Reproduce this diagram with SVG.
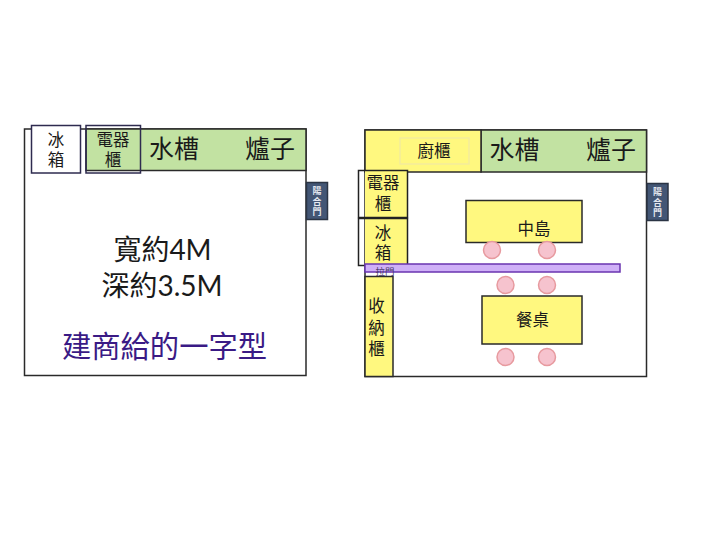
<svg xmlns="http://www.w3.org/2000/svg" width="720" height="540" viewBox="0 0 720 540">
<style>
text{font-family:"Liberation Sans","Noto Sans CJK TC",sans-serif;fill:#1a1a1a;text-anchor:middle}
.room{fill:#fff;stroke:#2a2a2a;stroke-width:1.5}
.green{fill:#c2e2a2;stroke:#2a2a2a;stroke-width:1.5}
.yellow{fill:#fff87f;stroke:#2a2a2a;stroke-width:1.5}
.box{fill:none;stroke:#2e2b4f;stroke-width:1.5}
.door{fill:#435675;stroke:#2b3444;stroke-width:1.5}
.doort{font-size:9px;fill:#e6e9f0;font-weight:bold}
.seat{fill:#f6c3ce;stroke:#e79a9f;stroke-width:1.5}
.l25{font-size:25px}
.l16{font-size:16.500px}
.cap{font-family:"Lato","Noto Sans CJK TC",sans-serif;font-size:28px}
</style>
<rect width="720" height="540" fill="#fff"/>
<g id="plan-left">
<rect class="room" x="24.500" y="129" width="281.500" height="246.500"/>
<rect class="green" x="86" y="129" width="220" height="41.500"/>
</g>
<g id="fridge-left"><rect x="31.500" y="125.500" width="49" height="47.500" fill="#fff" stroke="#2e2b4f" stroke-width="1.500"/>
<text class="l16" x="56" y="146">冰</text><text class="l16" x="56" y="165.500">箱</text></g>
<g id="cabinet-left"><rect class="box" x="86" y="125.500" width="54.500" height="47.500"/>
<text class="l16" x="113" y="145.500">電器</text><text class="l16" x="113" y="165.500">櫃</text></g>
<g id="sink-left"><text class="l25" x="174" y="158">水槽</text></g>
<g id="stove-left"><text class="l25" x="270" y="158">爐子</text></g>
<g id="door-left"><rect class="door" x="306.500" y="182.500" width="21" height="37"/>
<text class="doort" x="317" y="194">陽</text><text class="doort" x="317" y="204.500">合</text><text class="doort" x="317" y="215">門</text></g>
<g id="caption-left">
<text class="cap" x="162.500" y="259.500">寬約4M</text>
<text class="cap" x="162" y="295.500">深約3.5M</text>
<text x="164.500" y="357" font-size="29.300px" style="fill:#3a1a85">建商給的一字型</text></g>

<g id="plan-right">
<rect class="room" x="365" y="130" width="281.500" height="246.500"/>
<rect class="green" x="481" y="130" width="165.500" height="42"/>
</g>
<g id="pantry"><rect class="yellow" x="365" y="130" width="116" height="42"/>
<rect x="400" y="138" width="69" height="26" fill="none" stroke="#f4eb9c" stroke-width="1.500"/>
<text class="l16" x="434" y="157">廚櫃</text></g>
<g id="sink-right"><text class="l25" x="514.500" y="159">水槽</text></g>
<g id="stove-right"><text class="l25" x="611" y="159">爐子</text></g>
<g id="door-right"><rect class="door" x="647" y="183.500" width="21" height="37"/>
<text class="doort" x="657.500" y="195">陽</text><text class="doort" x="657.500" y="205.500">合</text><text class="doort" x="657.500" y="216">門</text></g>
<g id="cabinet-right"><rect x="365" y="171" width="42" height="46.500" fill="#fff87f"/>
<rect x="358.500" y="170.500" width="49" height="47" fill="none" stroke="#222" stroke-width="1.500"/>
<text class="l16" x="383" y="189">電器</text><text class="l16" x="383" y="209.500">櫃</text></g>
<g id="fridge-right"><rect x="365" y="218" width="42" height="47" fill="#fff87f"/>
<rect x="358.500" y="218.500" width="49" height="47" fill="none" stroke="#222" stroke-width="1.500"/>
<text class="l16" x="383" y="239">冰</text><text class="l16" x="383" y="258.500">箱</text></g>
<g id="storage"><rect class="yellow" x="365" y="276.500" width="28" height="100"/>
<text class="l16" x="376.500" y="312">收</text><text class="l16" x="376.500" y="333.500">納</text><text class="l16" x="376.500" y="354.500">櫃</text></g>
<g id="sliding-door"><rect x="365" y="264" width="255" height="8" fill="#cfb0f7" stroke="#6a35b0" stroke-width="1.500"/>
<text x="385" y="274.500" font-size="9.500px" style="fill:#4a3a6a">拉門</text></g>
<g id="island"><rect class="yellow" x="466" y="200.500" width="116" height="42"/>
<text class="l16" x="534" y="235">中島</text></g>
<g id="table"><rect class="yellow" x="482" y="296" width="100" height="48"/>
<text class="l16" x="532.500" y="326">餐桌</text></g>
<g id="seats">
<circle class="seat" cx="492" cy="250" r="8.500"/><circle class="seat" cx="547" cy="250" r="8.500"/>
<circle class="seat" cx="505.500" cy="285" r="8.500"/><circle class="seat" cx="547" cy="285" r="8.500"/>
<circle class="seat" cx="505.500" cy="357" r="8.500"/><circle class="seat" cx="547" cy="357" r="8.500"/>
</g>
</svg>
